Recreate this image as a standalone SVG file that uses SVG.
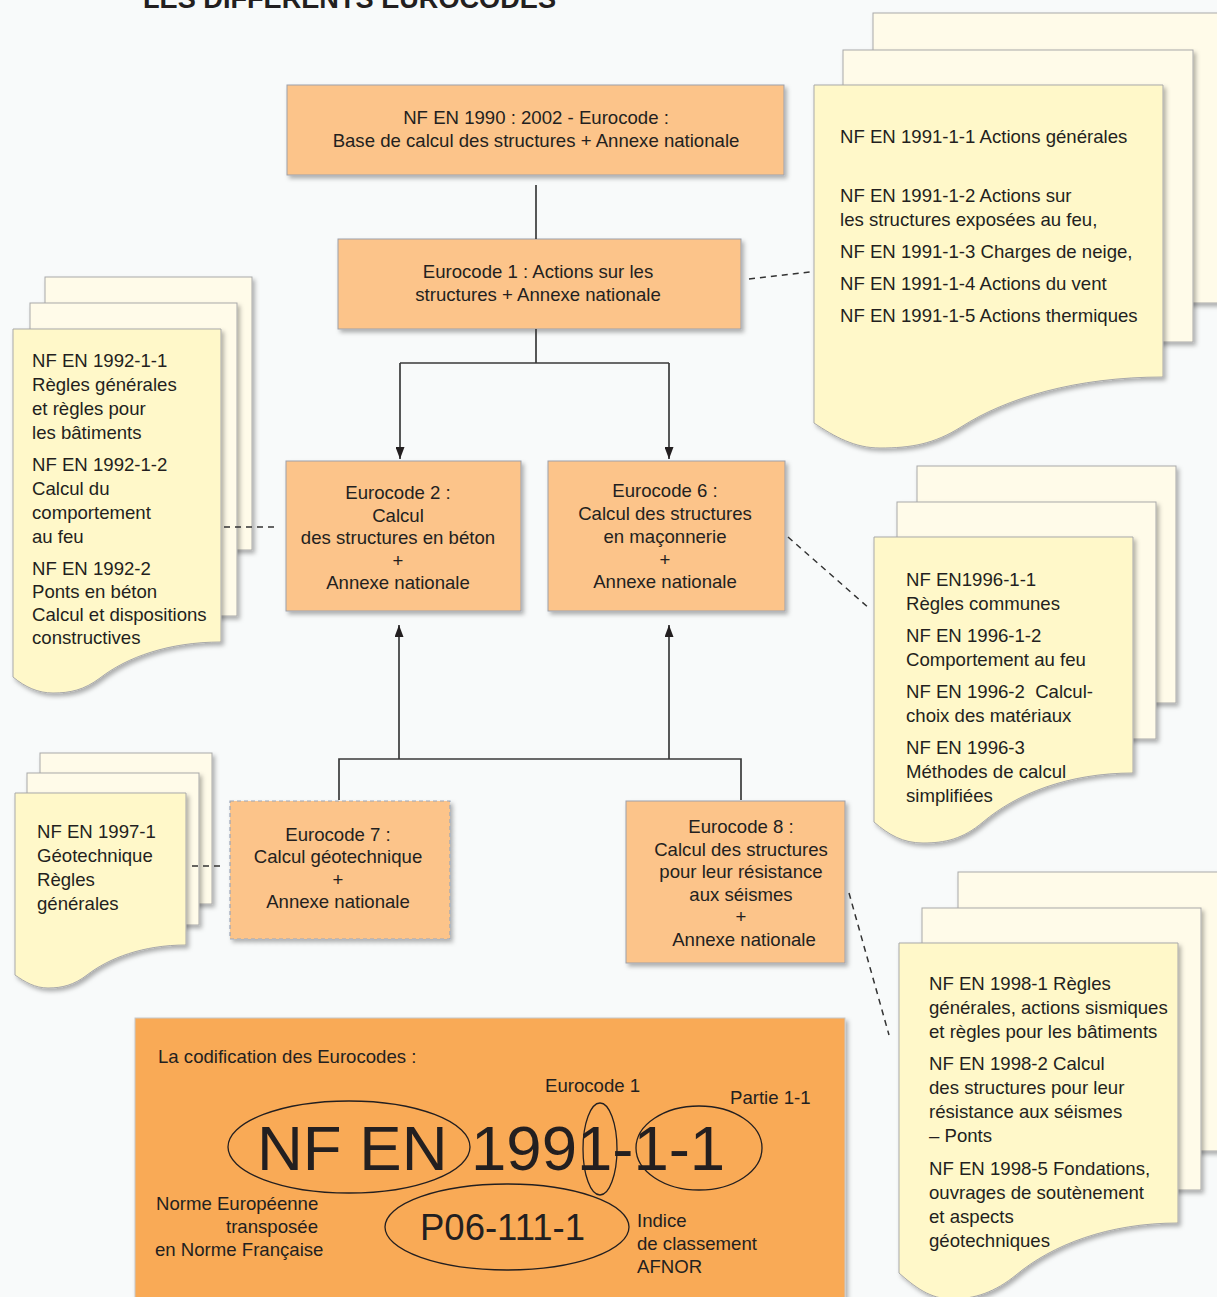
<svg xmlns="http://www.w3.org/2000/svg" width="1217" height="1297" viewBox="0 0 1217 1297">
<defs>
<style>
.t{font-family:"Liberation Sans",Arial,Helvetica,sans-serif;font-size:18.6px;fill:#231f20}
.c{text-anchor:middle}
.box{fill:#fcc48a;stroke:#9da0aa;stroke-width:1}
.boxd{fill:#fcc48a;stroke:#9aa6b8;stroke-width:1.2;stroke-dasharray:4 3}
.big{fill:#f9aa56;stroke:#c8c8c8;stroke-width:1}
.sf{fill:#fff8c9;stroke:#a9a9a9;stroke-width:1}
.sb{fill:#fffbe9;stroke:#a9a9a9;stroke-width:1}
.conn{stroke:#3a3a3a;stroke-width:1.7;fill:none}
.dash{stroke:#333;stroke-width:1.5;stroke-dasharray:6 5;fill:none}
.ell{fill:none;stroke:#231f20;stroke-width:1.3}
.huge{font-family:"Liberation Sans",Arial,Helvetica,sans-serif;font-size:63.5px;fill:#231f20}
</style>
<filter id="sh" x="-10%" y="-10%" width="125%" height="125%">
<feDropShadow dx="2.5" dy="3" stdDeviation="2.2" flood-color="#000" flood-opacity="0.3"/>
</filter>
<marker id="ah" markerWidth="12" markerHeight="9" refX="12" refY="4.5" orient="auto" markerUnits="userSpaceOnUse">
<path d="M0,0 L12,4.5 L0,9 Z" fill="#231f20"/>
</marker>
</defs>
<rect x="0" y="0" width="1217" height="1297" fill="#f8fafa"/>
<text x="143" y="8" font-family="Liberation Sans,Arial,sans-serif" font-weight="bold" font-size="27" fill="#231f20" textLength="413" lengthAdjust="spacingAndGlyphs">LES DIFFÉRENTS EUROCODES</text>

<g id="n-ec0">
<rect class="box" x="287" y="85" width="497" height="90" filter="url(#sh)"/>
<text class="t c" x="536" y="124">NF EN 1990 : 2002 - Eurocode :</text>
<text class="t c" x="536" y="147">Base de calcul des structures + Annexe nationale</text>
</g>

<g id="n-ec1">
<rect class="box" x="338" y="239" width="403" height="90" filter="url(#sh)"/>
<text class="t c" x="538" y="278">Eurocode 1 : Actions sur les</text>
<text class="t c" x="538" y="301">structures + Annexe nationale</text>
</g>

<g id="n-ec2">
<rect class="box" x="286" y="461" width="235" height="150" filter="url(#sh)"/>
<text class="t c" x="398" y="499">Eurocode 2 :</text>
<text class="t c" x="398" y="522">Calcul</text>
<text class="t c" x="398" y="544">des structures en béton</text>
<text class="t c" x="398" y="567">+</text>
<text class="t c" x="398" y="589">Annexe nationale</text>
</g>

<g id="n-ec6">
<rect class="box" x="548" y="461" width="237" height="150" filter="url(#sh)"/>
<text class="t c" x="665" y="497">Eurocode 6 :</text>
<text class="t c" x="665" y="520">Calcul des structures</text>
<text class="t c" x="665" y="543">en maçonnerie</text>
<text class="t c" x="665" y="566">+</text>
<text class="t c" x="665" y="588">Annexe nationale</text>
</g>

<g id="n-ec7">
<rect class="boxd" x="230" y="801" width="220" height="138" filter="url(#sh)"/>
<text class="t c" x="338" y="841">Eurocode 7 :</text>
<text class="t c" x="338" y="863">Calcul géotechnique</text>
<text class="t c" x="338" y="886">+</text>
<text class="t c" x="338" y="908">Annexe nationale</text>
</g>

<g id="n-ec8">
<rect class="box" x="626" y="801" width="219" height="162" filter="url(#sh)"/>
<text class="t c" x="741" y="833">Eurocode 8 :</text>
<text class="t c" x="741" y="856">Calcul des structures</text>
<text class="t c" x="741" y="878">pour leur résistance</text>
<text class="t c" x="741" y="901">aux séismes</text>
<text class="t c" x="741" y="923">+</text>
<text class="t c" x="744" y="946">Annexe nationale</text>
</g>

<g id="d-1991">
<rect class="sb" x="873" y="13" width="360" height="290" filter="url(#sh)"/>
<rect class="sb" x="843" y="50" width="350" height="292" filter="url(#sh)"/>
<path class="sf" filter="url(#sh)" d="M814,85 H1163 V377 C1076,377 1006,398 961,427 C934,444 911,448 880,448 C855,448 835,437 814,423 Z"/>
<text class="t" x="840" y="143">NF EN 1991-1-1 Actions générales</text>
<text class="t" x="840" y="202">NF EN 1991-1-2 Actions sur</text>
<text class="t" x="840" y="226">les structures exposées au feu,</text>
<text class="t" x="840" y="258">NF EN 1991-1-3 Charges de neige,</text>
<text class="t" x="840" y="290">NF EN 1991-1-4 Actions du vent</text>
<text class="t" x="840" y="322">NF EN 1991-1-5 Actions thermiques</text>
</g>

<g id="d-1992">
<rect class="sb" x="45" y="277" width="207" height="273" filter="url(#sh)"/>
<rect class="sb" x="30" y="303" width="207" height="313" filter="url(#sh)"/>
<path class="sf" filter="url(#sh)" d="M13,329 H221 V642 C169,642 127,657 100,678 C84,690 70,693 53,693 C38,693 25,687 13,677 Z"/>
<text class="t" x="32" y="367">NF EN 1992-1-1</text>
<text class="t" x="32" y="391">Règles générales</text>
<text class="t" x="32" y="415">et règles pour</text>
<text class="t" x="32" y="439">les bâtiments</text>
<text class="t" x="32" y="471">NF EN 1992-1-2</text>
<text class="t" x="32" y="495">Calcul du</text>
<text class="t" x="32" y="519">comportement</text>
<text class="t" x="32" y="543">au feu</text>
<text class="t" x="32" y="575">NF EN 1992-2</text>
<text class="t" x="32" y="598">Ponts en béton</text>
<text class="t" x="32" y="621">Calcul et dispositions</text>
<text class="t" x="32" y="644">constructives</text>
</g>

<g id="d-1996">
<rect class="sb" x="917" y="466" width="259" height="237" filter="url(#sh)"/>
<rect class="sb" x="897" y="502" width="259" height="237" filter="url(#sh)"/>
<path class="sf" filter="url(#sh)" d="M874,537 H1133 V773 C1068,773 1016,794 983,822 C963,839 945,843 923,843 C903,843 889,835 874,822 Z"/>
<text class="t" x="906" y="586">NF EN1996-1-1</text>
<text class="t" x="906" y="610">Règles communes</text>
<text class="t" x="906" y="642">NF EN 1996-1-2</text>
<text class="t" x="906" y="666">Comportement au feu</text>
<text class="t" x="906" y="698" xml:space="preserve">NF EN 1996-2  Calcul-</text>
<text class="t" x="906" y="722">choix des matériaux</text>
<text class="t" x="906" y="754">NF EN 1996-3</text>
<text class="t" x="906" y="778">Méthodes de calcul</text>
<text class="t" x="906" y="802">simplifiées</text>
</g>

<g id="d-1997">
<rect class="sb" x="40" y="753" width="172" height="151" filter="url(#sh)"/>
<rect class="sb" x="27" y="773" width="172" height="152" filter="url(#sh)"/>
<path class="sf" filter="url(#sh)" d="M15,793 H186 V945 C143,945 109,958 87,975 C74,985 62,988 48,988 C35,988 25,982 15,975 Z"/>
<text class="t" x="37" y="838">NF EN 1997-1</text>
<text class="t" x="37" y="862">Géotechnique</text>
<text class="t" x="37" y="886">Règles</text>
<text class="t" x="37" y="910">générales</text>
</g>

<g id="d-1998">
<rect class="sb" x="958" y="872" width="275" height="279" filter="url(#sh)"/>
<rect class="sb" x="922" y="908" width="279" height="282" filter="url(#sh)"/>
<path class="sf" filter="url(#sh)" d="M899,943 H1178 V1223 C1108,1223 1052,1245 1016,1275 C995,1292 975,1299 952,1299 C930,1299 915,1287 899,1273 Z"/>
<text class="t" x="929" y="990">NF EN 1998-1 Règles</text>
<text class="t" x="929" y="1014">générales, actions sismiques</text>
<text class="t" x="929" y="1038">et règles pour les bâtiments</text>
<text class="t" x="929" y="1070">NF EN 1998-2 Calcul</text>
<text class="t" x="929" y="1094">des structures pour leur</text>
<text class="t" x="929" y="1118">résistance aux séismes</text>
<text class="t" x="929" y="1142">– Ponts</text>
<text class="t" x="929" y="1175">NF EN 1998-5 Fondations,</text>
<text class="t" x="929" y="1199">ouvrages de soutènement</text>
<text class="t" x="929" y="1223">et aspects</text>
<text class="t" x="929" y="1247">géotechniques</text>
</g>

<g id="connectors">
<path class="conn" d="M536,185 V239"/>
<path class="conn" d="M536,329 V363 M400,363 H669"/>
<path class="conn" d="M400,363 V459" marker-end="url(#ah)"/>
<path class="conn" d="M669,363 V459" marker-end="url(#ah)"/>
<path class="conn" d="M339,800 V759 H741 V800"/>
<path class="conn" d="M399,759 V625" marker-end="url(#ah)"/>
<path class="conn" d="M669,759 V625" marker-end="url(#ah)"/>
<path class="dash" d="M749,279 L810,272"/>
<path class="dash" d="M224,527 L276,527"/>
<path class="dash" d="M788,537 L870,609"/>
<path class="dash" d="M192,866 L224,866"/>
<path class="dash" d="M849,893 L889,1035"/>
</g>

<g id="n-codification">
<rect class="big" x="135" y="1018" width="710" height="292" filter="url(#sh)"/>
<text class="t" x="158" y="1063">La codification des Eurocodes :</text>
<text class="t" x="545" y="1092">Eurocode 1</text>
<text class="t" x="730" y="1104">Partie 1-1</text>
<text class="huge" x="257" y="1170">NF EN</text>
<text class="huge" x="471" y="1170">1991-1-1</text>
<ellipse class="ell" cx="349" cy="1147" rx="121" ry="46"/>
<ellipse class="ell" cx="600" cy="1149" rx="17" ry="46"/>
<ellipse class="ell" cx="699" cy="1148" rx="63" ry="42"/>
<ellipse class="ell" cx="507" cy="1227" rx="122" ry="43"/>
<text x="420" y="1240" font-family="Liberation Sans,Arial,sans-serif" font-size="36.5" fill="#231f20">P06-111-1</text>
<text class="t" x="156" y="1210">Norme Européenne</text>
<text class="t" x="226" y="1233">transposée</text>
<text class="t" x="155" y="1256">en Norme Française</text>
<text class="t" x="637" y="1227">Indice</text>
<text class="t" x="637" y="1250">de classement</text>
<text class="t" x="637" y="1273">AFNOR</text>
</g>
</svg>
